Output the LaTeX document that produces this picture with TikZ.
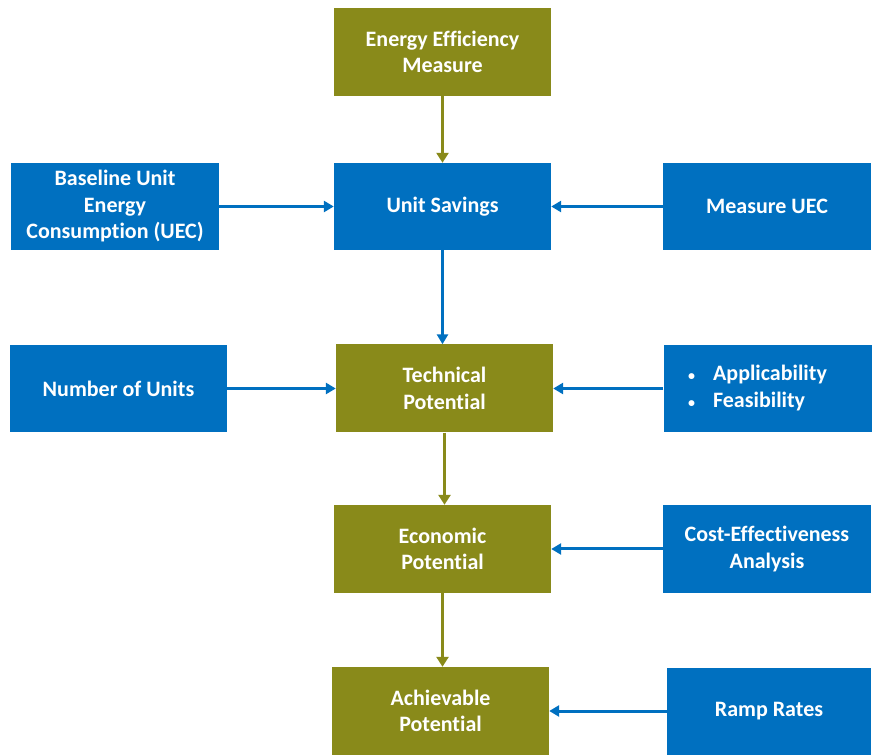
\documentclass[tikz,border=0pt]{standalone}
\usepackage{fontspec}
\setmainfont[Ligatures=NoCommon]{Carlito}
\usetikzlibrary{arrows.meta}
\definecolor{eeblue}{RGB}{0,112,192}
\definecolor{eeolive}{RGB}{137,138,26}
\tikzstyle{bluebox} = [rectangle, minimum width=208pt, minimum height=87pt, inner sep=0pt, align=center, text=white, font=\fontsize{22}{26.5}\selectfont\bfseries, fill=eeblue]
\tikzstyle{olivebox} = [rectangle, minimum width=217pt, minimum height=88pt, inner sep=0pt, align=center, text=white, font=\fontsize{22}{26.5}\selectfont\bfseries, fill=eeolive]
\tikzstyle{bluearrow} = [line width=3pt, draw=eeblue, -{Triangle[length=10pt,width=11pt]}]
\tikzstyle{olivearrow} = [line width=3.5pt, draw=eeolive, -{Triangle[length=10pt,width=12pt]}]

\begin{document}
\begin{tikzpicture}[node distance=160pt]
    \useasboundingbox (0,0) rectangle (872pt,755pt);
    % middle column
    \node (eem) [olivebox] at (442.5pt,703pt) {Energy Efficiency\\Measure};
    \node (usave) [bluebox, minimum width=217pt, below of=eem, yshift=5.5pt] {Unit Savings};
    \node (techpot) [olivebox, below of=usave, yshift=-22pt, xshift=2pt] {Technical\\Potential};
    \node (econ) [olivebox, below of=techpot, yshift=-0.5pt, xshift=-2pt] {Economic\\Potential};
    \node (achiev) [olivebox, below of=econ, yshift=-2pt, xshift=-2pt] {Achievable\\Potential};
    % inputs on the left
    \node (baseline) [bluebox, left of=usave, xshift=-167.5pt] {Baseline Unit\\Energy\\Consumption (UEC)};
    \node (nunits) [bluebox, minimum width=217pt, left of=techpot, xshift=-166pt] {Number of Units};
    % inputs on the right
    \node (muec) [bluebox, right of=usave, xshift=164.5pt] {Measure UEC};
    \node (applic) [bluebox, right of=techpot, xshift=163pt] {\begin{tabular}{@{}l@{\hspace{18pt}}l@{}}{\fontsize{14}{14}\selectfont\textbullet} & Applicability\\ {\fontsize{14}{14}\selectfont\textbullet} & Feasibility\end{tabular}\hspace{20pt}};
    \node (cea) [bluebox, right of=econ, xshift=164.5pt] {Cost-Effectiveness\\Analysis};
    \node (ramp) [bluebox, minimum width=204pt, right of=achiev, xshift=168.5pt] {Ramp Rates};

    \draw [olivearrow] (eem) -- (usave);
    \draw [bluearrow] (baseline) -- (usave);
    \draw [bluearrow] (muec) -- (usave);
    \draw [bluearrow] (usave.south) -- (usave.south |- techpot.north);
    \draw [bluearrow] (nunits) -- (techpot);
    \draw [bluearrow] (applic) -- (techpot);
    \draw [olivearrow] (techpot.south) -- (techpot.south |- econ.north);
    \draw [bluearrow] (cea) -- (econ);
    \draw [olivearrow] (econ.south) -- (econ.south |- achiev.north);
    \draw [bluearrow] (ramp) -- (achiev);
\end{tikzpicture}
\end{document}
